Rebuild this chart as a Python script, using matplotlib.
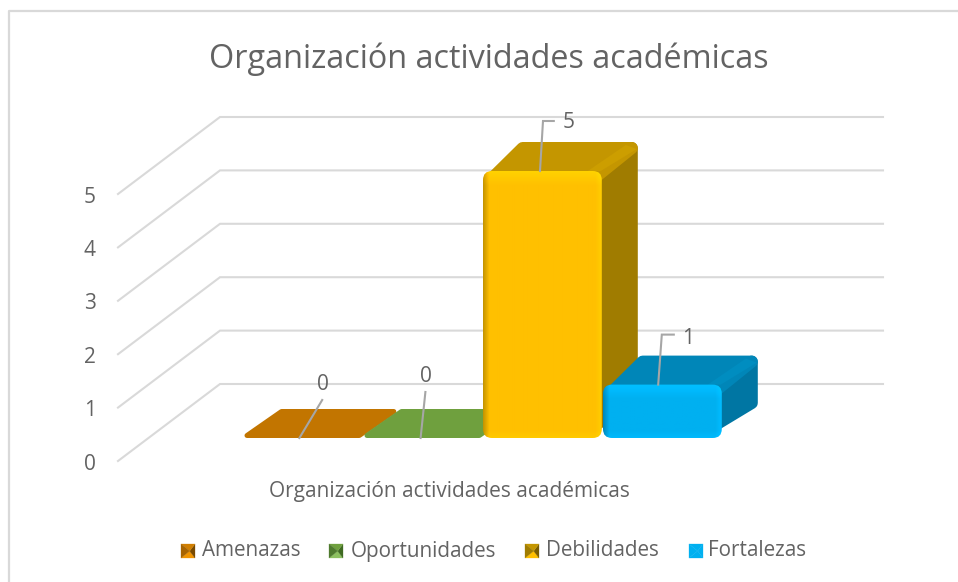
import matplotlib
matplotlib.use("Agg")
import matplotlib.pyplot as plt
import numpy as np
from matplotlib.patches import Polygon, FancyBboxPatch

plt.rcParams['font.family'] = ['Open Sans', 'DejaVu Sans']

title = "Organización actividades académicas"
categories = ["Amenazas", "Oportunidades", "Debilidades", "Fortalezas"]
values = [0, 0, 5, 1]
y_ticks = [0, 1, 2, 3, 4, 5]

front_colors = ["#C55A11", "#70AD47", "#FFC000", "#00B0F0"]
flat_colors = ["#C27500", "#6FA03E", "#C49600", "#0086B8"]
band_colors = ["#C27500", "#6FA03E", "#CC9E00", "#008DC0"]
side_colors = ["#8A5200", "#4E7A2E", "#A07C00", "#0076A3"]

# legend swatches: bottom, right, top, left
swatches = [["#F09400", "#7A4A00", "#D07E00", "#A86400"],
            ["#8CC060", "#3F6A22", "#6FA03E", "#4E7A2E"],
            ["#FFC000", "#7A5E00", "#C49600", "#A07C00"],
            ["#00B0F0", "#00B0F0", "#00B0F0", "#00B0F0"]]

W, H = 958, 582
PX_X = 120.0   # px per category
PX_Y = 53.4    # px per value unit
X0, Y0 = 243.0, 438.0
TXT = "#636363"

fig = plt.figure(figsize=(W / 100, H / 100), dpi=100)
ax = fig.add_axes([0, 0, 1, 1])
ax.set_xlim(-X0 / PX_X, (W - X0) / PX_X)
ax.set_ylim((Y0 - H) / PX_Y, Y0 / PX_Y)
ax.axis("off")

def dx(px):
    return px / PX_X

def dy(px):
    return px / PX_Y

# outer frame
fig.add_artist(plt.Line2D([9 / W, 9 / W, 1], [0, 1 - 11 / H, 1 - 11 / H],
                          color="#D9D9D9", lw=1.6))

# walls and gridlines
for t in y_ticks:
    fx, fy = dx(118 - X0), t - dy(461 - Y0)
    bx, by = dx(220 - X0), t + dy(Y0 - 384)
    ex = dx(883 - X0)
    ax.plot([fx, bx, ex], [fy, by, by], color="#D9D9D9", lw=1.5, zorder=1,
            solid_joinstyle="miter")
    ax.text(dx(90 - X0), fy - dy(3), str(t), color=TXT, fontsize=15,
            ha="center", va="center")

def shade(base, w, h):
    # front face of a bar, bright rim on top and right, dark on the left
    rgb = np.array(matplotlib.colors.to_rgb(base))
    img = np.ones((h, w, 3)) * rgb
    xs = np.arange(w)
    ys = np.arange(h)
    left = np.clip(1 - xs / 6.0, 0, 1)[None, :, None]
    right = np.clip((xs - (w - 7)) / 6.0, 0, 1)[None, :, None]
    top = np.clip(1 - ys / 14.0, 0, 1)[:, None, None]
    bottom = np.clip((ys - (h - 8)) / 7.0, 0, 1)[:, None, None]
    img = img * (1 - 0.22 * left)
    img = img * (1 + 0.07 * right)
    img = img * (1 + 0.09 * top)
    img = img * (1 + 0.05 * bottom)
    return np.clip(img, 0, 1)

BAR_W = 0.99
DEPTH_X, DEPTH_Y = dx(36), dy(29)

def rounded(pts, color, r, z):
    # corners are rounded through the line joins, r is the join width in px
    ax.add_patch(Polygon(pts, closed=True, fc=color, ec=color, lw=r * 0.72,
                         joinstyle="round", zorder=z))

for i, v in enumerate(values):
    z = 3 + i
    x0, x1 = i, i + BAR_W
    if v == 0:
        r = 5
        inx, iny = dx(r / 2), dy(r / 2)
        pts = [(x0 + 1.6 * inx, iny), (x1 - inx, iny),
               (x1 + DEPTH_X - 1.6 * inx, DEPTH_Y - iny), (x0 + DEPTH_X + inx, DEPTH_Y - iny)]
        rounded(pts, flat_colors[i], r, z)
        continue
    r = 12
    inx, iny = dx(r / 2), dy(r / 2)
    # side face
    pts = [(x1 - 3 * inx, iny), (x1 + DEPTH_X - inx, DEPTH_Y + iny),
           (x1 + DEPTH_X - inx, v + DEPTH_Y - iny), (x1 - 3 * inx, v - iny)]
    rounded(pts, side_colors[i], r, z)
    # top face
    pts = [(x0 + 1.7 * inx, v - iny), (x1 - inx, v - iny),
           (x1 + DEPTH_X - inx, v + DEPTH_Y - iny), (x0 + DEPTH_X + 0.6 * inx, v + DEPTH_Y - iny)]
    rounded(pts, flat_colors[i], r, z + 0.1)
    # lighter band on the top face, along the right edge
    pts = [(x1 - dx(14), v), (x1 - dx(1), v), (x1 + DEPTH_X - dx(1), v + DEPTH_Y - dy(7)),
           (x1 + DEPTH_X - dx(12), v + DEPTH_Y - dy(3))]
    ax.add_patch(Polygon(pts, closed=True, fc=band_colors[i], ec="none", zorder=z + 0.15))
    # front face
    box = FancyBboxPatch((x0, 0), BAR_W, v, boxstyle=f"round,pad=0,rounding_size={dx(9)}",
                         mutation_aspect=PX_X / PX_Y, fc="none", ec="none", zorder=z + 0.2)
    ax.add_patch(box)
    im = ax.imshow(shade(front_colors[i], 118, max(int(v * PX_Y), 1)),
                   extent=(x0, x1, 0, v), aspect="auto", zorder=z + 0.2,
                   origin="upper", interpolation="bilinear")
    im.set_clip_path(box)

ax.set_xlim(-X0 / PX_X, (W - X0) / PX_X)
ax.set_ylim((Y0 - H) / PX_Y, Y0 / PX_Y)

# value labels with leader lines
leaders = [[(0.47, 0.0), (0.66, 38 / PX_Y)], [(0.48, 0.0), (0.52, 46 / PX_Y)],
           [(0.475, 0.0), (0.50, 50 / PX_Y), (0.59, 50 / PX_Y)],
           [(0.46, 0.0), (0.49, 50 / PX_Y), (0.59, 50 / PX_Y)]]
label_off = [(0.665, 54 / PX_Y), (0.525, 62 / PX_Y), (0.71, 48 / PX_Y), (0.71, 46 / PX_Y)]
for i, v in enumerate(values):
    xs = [i + p[0] for p in leaders[i]]
    ys = [v + p[1] for p in leaders[i]]
    ax.plot(xs, ys, color="#A6A6A6", lw=1.5, zorder=20, solid_joinstyle="miter")
    ax.text(i + label_off[i][0], v + label_off[i][1], str(v), color=TXT,
            fontsize=15, ha="center", va="center", zorder=21)

fig.text(489 / W, 1 - 59 / H, title, color=TXT, fontsize=23.3, ha="center", va="center")
fig.text(449 / W, 1 - 492 / H, title, color=TXT, fontsize=15, ha="center", va="center")

# legend
swatch_x = [181, 329, 525, 689]
text_x = [202, 351, 546, 708]
for i, name in enumerate(categories):
    x, y, s = swatch_x[i] / W, 1 - 558 / H, 14
    sw, sh = s / W, s / H
    cx, cy = x + sw * 0.62, y + sh * 0.5
    c = [(x, y), (x + sw, y), (x + sw, y + sh), (x, y + sh)]
    for k in range(4):
        fig.add_artist(Polygon([c[k], c[(k + 1) % 4], (cx, cy)], closed=True,
                               fc=swatches[i][k], ec=swatches[i][k], lw=0.2,
                               transform=fig.transFigure))
    fig.text(text_x[i] / W, 1 - 551 / H, name, color=TXT, fontsize=14.9,
             ha="left", va="center")

fig.savefig("out.png", dpi=100)
